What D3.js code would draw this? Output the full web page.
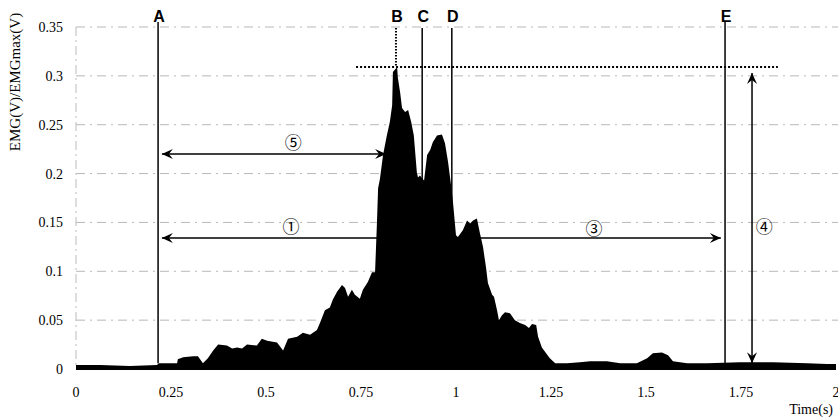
<!DOCTYPE html>
<html><head><meta charset="utf-8">
<script src="https://cdn.jsdelivr.net/npm/d3@7"></script>
<style>body{margin:0;background:#fff}</style>
</head><body><svg id="c" width="838" height="418"></svg>
<script>
const times = [0,0.063,0.142,0.213,0.218,0.266,0.268,0.282,0.308,0.321,0.334,0.347,0.361,0.374,0.397,0.411,0.424,0.437,0.45,0.476,0.489,0.503,0.529,0.545,0.558,0.582,0.597,0.616,0.634,0.642,0.655,0.668,0.676,0.687,0.7,0.708,0.716,0.726,0.734,0.747,0.755,0.768,0.779,0.787,0.792,0.795,0.8,0.808,0.818,0.826,0.832,0.834,0.845,0.847,0.853,0.858,0.866,0.874,0.882,0.889,0.897,0.9,0.905,0.916,0.924,0.932,0.939,0.95,0.963,0.971,0.979,0.987,0.992,1.0,1.005,1.018,1.029,1.037,1.045,1.055,1.063,1.071,1.079,1.084,1.095,1.1,1.108,1.113,1.121,1.129,1.142,1.155,1.168,1.182,1.192,1.2,1.211,1.216,1.226,1.239,1.247,1.261,1.292,1.326,1.353,1.397,1.432,1.476,1.503,1.518,1.542,1.558,1.571,1.608,1.661,1.747,1.834,1.924,1.976,2.0];
const values = [0.004,0.004,0.003,0.004,0.006,0.006,0.010,0.012,0.013,0.013,0.006,0.011,0.019,0.025,0.024,0.021,0.022,0.021,0.025,0.024,0.031,0.029,0.027,0.019,0.031,0.033,0.037,0.035,0.040,0.047,0.060,0.063,0.071,0.079,0.086,0.083,0.074,0.081,0.076,0.072,0.081,0.089,0.099,0.099,0.150,0.185,0.195,0.219,0.239,0.253,0.270,0.304,0.309,0.298,0.283,0.267,0.263,0.265,0.253,0.239,0.201,0.196,0.198,0.193,0.219,0.224,0.232,0.239,0.240,0.231,0.212,0.188,0.171,0.137,0.135,0.142,0.152,0.149,0.152,0.154,0.139,0.125,0.104,0.088,0.076,0.074,0.060,0.050,0.055,0.058,0.057,0.050,0.047,0.045,0.042,0.046,0.045,0.033,0.022,0.015,0.011,0.006,0.006,0.007,0.008,0.008,0.006,0.006,0.011,0.016,0.017,0.014,0.008,0.006,0.006,0.007,0.007,0.006,0.005,0.005];
const xTicks = [0,0.25,0.5,0.75,1,1.25,1.5,1.75,2];
const xTickLabels = ["0","0.25","0.5","0.75","1","1.25","1.5","1.75","2"];
const yTicks = [0,0.05,0.1,0.15,0.2,0.25,0.3,0.35];
const yTickLabels = ["0","0.05","0.1","0.15","0.2","0.25","0.3","0.35"];
const eventNames = ["A","B","C","D","E"];
const eventTimes = [0.216,0.842,0.911,0.989,1.708];
const peakValue = 0.309;
const arrowLabels = ["⑤","①","③","④"];
const arrow5 = {t0:0.226, t1:0.816, v:0.22};
const arrow13 = {t0:0.226, t1:1.697, v:0.134};
const arrow4 = {t:1.779, v0:0.006, v1:0.303};
const xTitle = "Time(s)";
const yTitle = "EMG(V)/EMGmax(V)";

const svg = d3.select("#c");
const x = d3.scaleLinear().domain([0,2]).range([76,836]);
const y = d3.scaleLinear().domain([0,0.35]).range([369,27]);
const serif = "'Liberation Serif','Times New Roman',serif";

const defs = svg.append("defs");
defs.append("marker").attr("id","ah").attr("viewBox","-12 -6 14 12")
  .attr("refX",0).attr("refY",0).attr("markerWidth",14).attr("markerHeight",12)
  .attr("markerUnits","userSpaceOnUse").attr("orient","auto-start-reverse")
  .append("path").attr("d","M0,0 L-11,-5 L-7,0 L-11,5 Z").attr("fill","#000");

// gridlines
svg.append("g").selectAll("line").data(yTicks.filter(d=>d>0)).join("line")
  .attr("x1",x(0)).attr("x2",838).attr("y1",d=>y(d)).attr("y2",d=>y(d))
  .attr("stroke","#b8b8b8").attr("stroke-width",1).attr("stroke-dasharray","9,5,2,5");
svg.append("line").attr("x1",x(0)).attr("x2",x(0)).attr("y1",y(0.35)).attr("y2",y(0))
  .attr("stroke","#bbb").attr("stroke-width",1).attr("stroke-dasharray","9,4,2,4");

svg.append("g").selectAll("text").data(yTicks).join("text")
  .attr("x",63).attr("y",d=>y(d)+5).attr("text-anchor","end")
  .attr("font-family",serif).attr("font-size",14).text((d,i)=>yTickLabels[i]);
svg.append("g").selectAll("text").data(xTicks).join("text")
  .attr("x",d=>x(d)).attr("y",397).attr("text-anchor","middle")
  .attr("font-family",serif).attr("font-size",14).text((d,i)=>xTickLabels[i]);
svg.append("text").attr("x",833).attr("y",414).attr("text-anchor","end")
  .attr("font-family",serif).attr("font-size",14).text(xTitle);
svg.append("text").attr("transform","translate(20,82) rotate(-90)").attr("text-anchor","middle")
  .attr("font-family",serif).attr("font-size",15).text(yTitle);

svg.append("line").attr("x1",x(arrow13.t0)).attr("x2",x(arrow13.t1))
  .attr("y1",y(arrow13.v)).attr("y2",y(arrow13.v))
  .attr("stroke","#000").attr("stroke-width",1.5)
  .attr("marker-start","url(#ah)").attr("marker-end","url(#ah)");

eventNames.forEach((n,i)=>{
  if(n==="B"){
    svg.append("line").attr("x1",x(eventTimes[i])).attr("x2",x(eventTimes[i]))
      .attr("y1",y(0.349)).attr("y2",y(peakValue))
      .attr("stroke","#000").attr("stroke-width",2).attr("stroke-dasharray","1.5,1.5");
  } else {
    svg.append("line").attr("x1",x(eventTimes[i])).attr("x2",x(eventTimes[i]))
      .attr("y1",(n==="A"||n==="E")?y(0.355):y(0.349)).attr("y2",y(0.006))
      .attr("stroke","#000").attr("stroke-width",1.5);
  }
  svg.append("text").attr("x",x(eventTimes[i])+1).attr("y",22).attr("text-anchor","middle")
    .attr("font-family","'Liberation Sans',Arial,sans-serif").attr("font-weight","bold")
    .attr("font-size",16).text(n);
});

const area = d3.area().x((d,i)=>x(times[i])).y0(y(0)+1).y1((d,i)=>y(values[i]));
svg.append("path").datum(values).attr("d",area).attr("fill","#000");

svg.append("line").attr("x1",x(arrow5.t0)).attr("x2",x(arrow5.t1))
  .attr("y1",y(arrow5.v)).attr("y2",y(arrow5.v))
  .attr("stroke","#000").attr("stroke-width",1.5)
  .attr("marker-start","url(#ah)").attr("marker-end","url(#ah)");
svg.append("line").attr("x1",x(arrow4.t)).attr("x2",x(arrow4.t))
  .attr("y1",y(arrow4.v0)).attr("y2",y(arrow4.v1))
  .attr("stroke","#000").attr("stroke-width",1.5)
  .attr("marker-start","url(#ah)").attr("marker-end","url(#ah)");

svg.append("line").attr("x1",x(0.737)).attr("x2",x(1.847))
  .attr("y1",y(peakValue)).attr("y2",y(peakValue))
  .attr("stroke","#000").attr("stroke-width",2).attr("stroke-dasharray","2,2");

const labelPos = [[0.572,0.231],[0.566,0.145],[1.363,0.143],[1.811,0.145]];
svg.append("g").selectAll("text").data(arrowLabels).join("text")
  .attr("x",(d,i)=>x(labelPos[i][0])).attr("y",(d,i)=>y(labelPos[i][1])+6)
  .attr("text-anchor","middle").attr("font-family","'Noto Sans CJK JP','DejaVu Sans',sans-serif")
  .attr("font-size",17).text(d=>d);
</script></body></html>
